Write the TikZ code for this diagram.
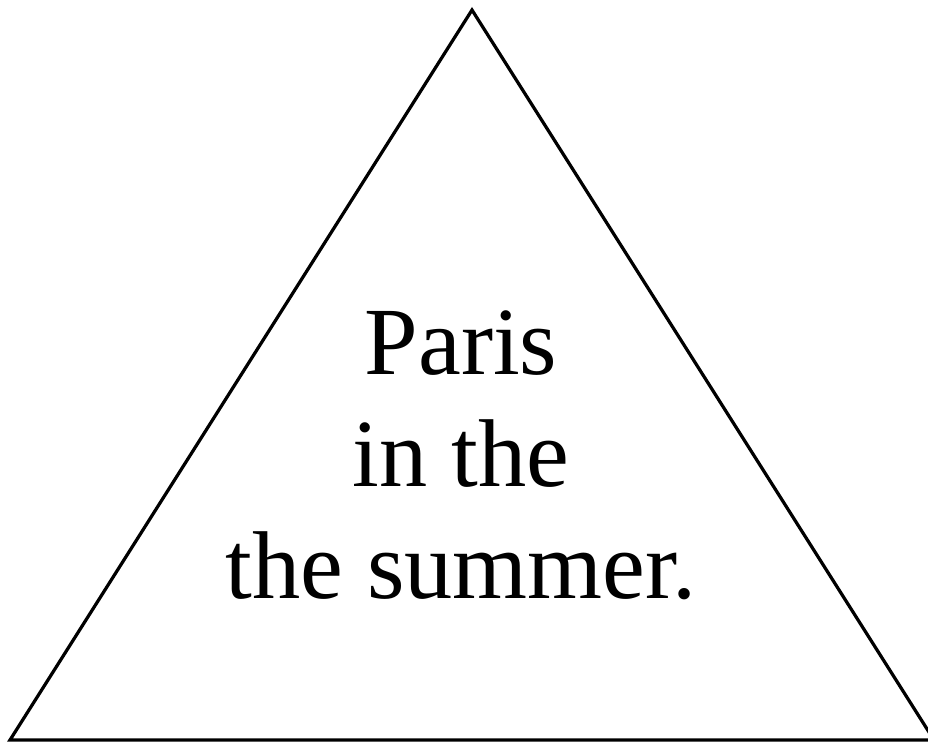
\documentclass[tikz,border=0pt]{standalone}
\usepackage{fontspec}
\setmainfont{Liberation Serif}
\usepackage{tikz}

\begin{document}
\begin{tikzpicture}[x=0.025cm,y=-0.025cm]
  \useasboundingbox (0,0) rectangle (928,743);
  \clip (0,0) rectangle (928,743);
  \coordinate (apex) at (472,10);
  \coordinate (left) at (10,740);
  \coordinate (right) at (934,740);
  \draw[line width=2.3pt] (apex) -- (left) -- (right) -- cycle;
  % anchor=base sits on the last line
  \node[align=center,inner sep=0pt,anchor=base,font=\fontsize{68.5}{79.3}\selectfont] (caption) at (461,598)
    {Paris\\in the\\the summer.};
\end{tikzpicture}
\end{document}
